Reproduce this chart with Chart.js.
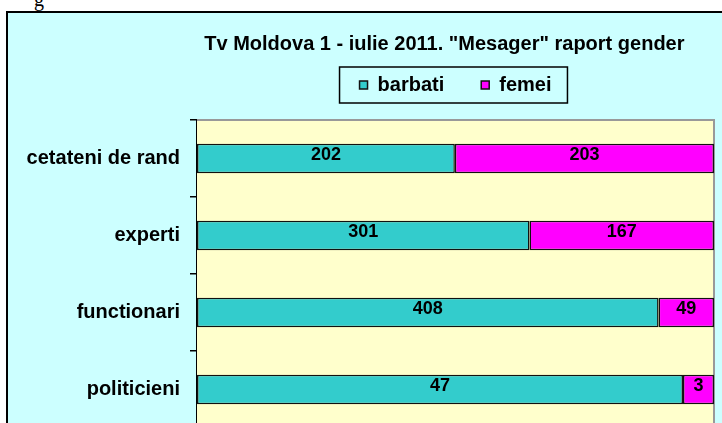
<!DOCTYPE html>
<html>
<head>
<meta charset="utf-8">
<script src="https://cdn.jsdelivr.net/npm/chart.js@4"></script>
<style>
  body { margin: 0; background: #fff; width: 722px; height: 423px; overflow: hidden; position: relative; }
  #frame { position: absolute; left: 6px; top: 11px; width: 760px; height: 500px; border: 2px solid #000; background: #ccffff; }
  #cap { position: absolute; left: 34px; top: -12px; font: 20px "Liberation Serif", serif; color: #000; }
  #myChart { position: absolute; left: 0; top: 0; }
</style>
</head>
<body>
<div id="cap">g</div>
<div id="frame"></div>
<canvas id="myChart" width="722" height="450"></canvas>
<script>
const categories = ['cetateni de rand', 'experti', 'functionari', 'politicieni'];
const barbati = [202, 301, 408, 47];
const femei = [203, 167, 49, 3];
const titleText = 'Tv Moldova 1 - iulie 2011. "Mesager" raport gender    ';

// 100% stacked: share of each row
const totals = barbati.map((v, i) => v + femei[i]);
const pctB = barbati.map((v, i) => v / totals[i] * 100);
const pctF = femei.map((v, i) => v / totals[i] * 100);
const rawValues = [barbati, femei];

const plotBg = {
  id: 'plotBg',
  beforeDatasetsDraw(chart) {
    const a = chart.chartArea, c = chart.ctx;
    c.save();
    c.fillStyle = '#ffffcc';
    c.fillRect(a.left, a.top, a.right - a.left, a.bottom - a.top);
    c.strokeStyle = '#999';
    c.lineWidth = 2;
    c.beginPath();
    c.moveTo(a.left, a.top);
    c.lineTo(a.right, a.top);
    c.lineTo(a.right, a.bottom);
    c.stroke();
    c.restore();
  },
  afterDatasetsDraw(chart) {
    const c = chart.ctx;
    c.save();
    c.font = 'bold 18px "Liberation Sans", Arial, sans-serif';
    c.fillStyle = '#000';
    c.textAlign = 'center';
    c.textBaseline = 'middle';
    chart.data.datasets.forEach((ds, di) => {
      chart.getDatasetMeta(di).data.forEach((el, i) => {
        c.fillText(String(rawValues[di][i]), (el.x + el.base) / 2, el.y - 3);
      });
    });
    c.restore();
  },
  afterDraw(chart) {
    const boxes = chart.legend.legendHitBoxes;
    if (!boxes || !boxes.length) return;
    const c = chart.ctx;
    const l = Math.min(...boxes.map(b => b.left)) - 20;
    const r = Math.max(...boxes.map(b => b.left + b.width)) + 16;
    const cy = boxes[0].top + boxes[0].height / 2;
    c.save();
    c.strokeStyle = '#000';
    c.lineWidth = 1.5;
    c.strokeRect(l, cy - 18, r - l, 36);
    c.restore();
  }
};

const ctx = document.getElementById('myChart');
new Chart(ctx, {
  type: 'bar',
  data: {
    labels: categories,
    datasets: [{
      label: 'barbati',
      data: pctB,
      backgroundColor: '#33cccc',
      borderColor: '#111',
      borderWidth: 1.5,
      borderSkipped: false,
      barPercentage: 0.38,
      categoryPercentage: 1
    }, {
      label: 'femei',
      data: pctF,
      backgroundColor: '#ff00ff',
      borderColor: '#111',
      borderWidth: 1.5,
      borderSkipped: false,
      barPercentage: 0.38,
      categoryPercentage: 1
    }]
  },
  options: {
    indexAxis: 'y',
    responsive: false,
    animation: false,
    layout: { padding: { right: 8, bottom: 3 } },
    scales: {
      x: { stacked: true, min: 0, max: 100, display: false },
      y: {
        stacked: true,
        grid: { offset: true, drawOnChartArea: false, tickLength: 7, color: '#000', lineWidth: 1.5 },
        border: { display: true, color: '#000', width: 2 },
        ticks: {
          color: '#000',
          padding: 10,
          font: { family: '"Liberation Sans", Arial, sans-serif', size: 20, weight: 'bold' }
        },
        afterFit(scale) { scale.width = 197; }
      }
    },
    plugins: {
      title: {
        display: true,
        text: titleText,
        fullSize: false,
        color: '#000',
        font: { family: '"Liberation Sans", Arial, sans-serif', size: 20, weight: 'bold' },
        padding: { top: 32, bottom: -18 }
      },
      subtitle: {
        // spacer between legend and plot
        display: true,
        text: ' ',
        fullSize: false,
        weight: 500,
        font: { size: 5 },
        padding: { top: 0, bottom: 9 }
      },
      legend: {
        display: true,
        fullSize: false,
        labels: {
          color: '#000',
          boxWidth: 8,
          boxHeight: 8,
          padding: 37,
          font: { family: '"Liberation Sans", Arial, sans-serif', size: 20, weight: 'bold' }
        }
      },
      tooltip: { enabled: false }
    }
  },
  plugins: [plotBg]
});
</script>
</body>
</html>
